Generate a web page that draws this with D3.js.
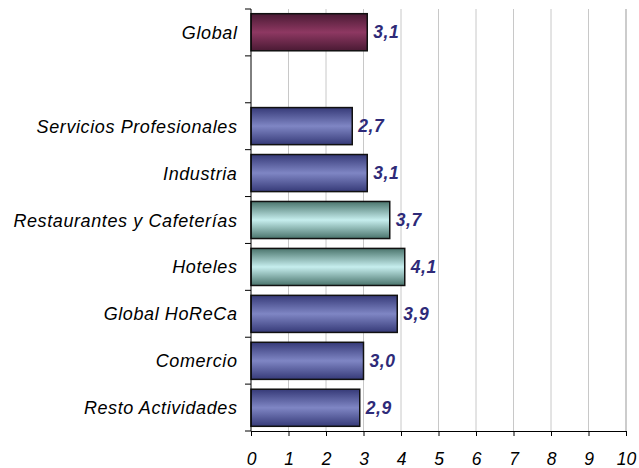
<!DOCTYPE html>
<html>
<head>
<meta charset="utf-8">
<script src="https://cdn.jsdelivr.net/npm/d3@7"></script>
<style>
body { margin: 0; background: #fff; }
text { font-family: "Liberation Sans", Arial, sans-serif; }
</style>
</head>
<body>
<svg width="639" height="468"></svg>
<script>
var categories = ["Global", "", "Servicios Profesionales", "Industria", "Restaurantes y Cafeterías", "Hoteles", "Global HoReCa", "Comercio", "Resto Actividades"];
var values = [3.1, null, 2.7, 3.1, 3.7, 4.1, 3.9, 3.0, 2.9];
var barStyle = ["maroon", null, "blue", "blue", "teal", "teal", "blue", "blue", "blue"];
var xTicks = [0, 1, 2, 3, 4, 5, 6, 7, 8, 9, 10];

var svg = d3.select("svg");
var plotLeft = 251, plotRight = 626, plotTop = 9, plotBottom = 431;

var x = d3.scaleLinear().domain([0, 10]).range([plotLeft, plotRight]);
var y = d3.scaleBand().domain(d3.range(categories.length)).range([plotTop, plotBottom]).paddingInner(0.21).paddingOuter(0.1);
var yTicks = d3.scaleBand().domain(d3.range(categories.length)).range([plotTop, plotBottom]);

// gradients for the bars
var defs = svg.append("defs");
var grads = {
    maroon: ["#4a1a34", "#8e3862", "#4a1a34"],
    blue: ["#363a78", "#7f86c4", "#363a78"],
    teal: ["#4a746c", "#c6eeee", "#4a746c"]
};
Object.keys(grads).forEach(function(k) {
    var g = defs.append("linearGradient").attr("id", "g-" + k)
        .attr("x1", 0).attr("y1", 0).attr("x2", 0).attr("y2", 1);
    g.append("stop").attr("offset", "0%").attr("stop-color", grads[k][0]);
    g.append("stop").attr("offset", "50%").attr("stop-color", grads[k][1]);
    g.append("stop").attr("offset", "100%").attr("stop-color", grads[k][2]);
});

// grid lines
svg.append("g").selectAll("line")
    .data(xTicks.slice(1))
    .enter().append("line")
    .attr("x1", function(d) { return x(d); })
    .attr("x2", function(d) { return x(d); })
    .attr("y1", plotTop).attr("y2", plotBottom)
    .attr("stroke", function(d) { return d === 10 ? "#999" : "#c8c8c8"; })
    .attr("stroke-width", 1);

// bars
var idx = d3.range(categories.length).filter(function(i) { return values[i] !== null; });
svg.append("g").selectAll("rect")
    .data(idx)
    .enter().append("rect")
    .attr("x", x(0))
    .attr("y", function(i) { return y(i); })
    .attr("width", function(i) { return x(values[i]) - x(0); })
    .attr("height", y.bandwidth())
    .attr("fill", function(i) { return "url(#g-" + barStyle[i] + ")"; })
    .attr("stroke", "#111")
    .attr("stroke-width", 1.5);

// value labels
svg.append("g").selectAll("text")
    .data(idx)
    .enter().append("text")
    .attr("x", function(i) { return x(values[i]) + 6; })
    .attr("y", function(i) { return y(i) + y.bandwidth() / 2 + 6; })
    .attr("font-size", 17.5)
    .attr("font-weight", "bold")
    .attr("font-style", "italic")
    .attr("letter-spacing", 0.6)
    .attr("fill", "#2e2a78")
    .text(function(i) { return d3.format(".1f")(values[i]).replace(".", ","); });

// y axis
var yAxis = svg.append("g").attr("transform", "translate(" + plotLeft + ",0)");
yAxis.append("line").attr("x1", 0).attr("x2", 0).attr("y1", plotTop).attr("y2", plotBottom).attr("stroke", "#000");
yAxis.selectAll("line.t")
    .data(d3.range(categories.length + 1))
    .enter().append("line").attr("class", "t")
    .attr("x1", -6).attr("x2", 0)
    .attr("y1", function(i) { return plotTop + i * yTicks.step(); })
    .attr("y2", function(i) { return plotTop + i * yTicks.step(); })
    .attr("stroke", "#000");
yAxis.selectAll("text")
    .data(d3.range(categories.length))
    .enter().append("text")
    .attr("x", -13.5)
    .attr("y", function(i) { return yTicks(i) + yTicks.bandwidth() / 2 + 6.5; })
    .attr("text-anchor", "end")
    .attr("font-size", 18)
    .attr("letter-spacing", 0.6)
    .attr("font-style", "italic")
    .text(function(i) { return categories[i]; });

// x axis
var xAxis = svg.append("g").attr("transform", "translate(0," + plotBottom + ")")
    .call(d3.axisBottom(x).tickValues(xTicks).tickSize(5).tickPadding(17));
xAxis.select(".domain").attr("stroke", "#000");
xAxis.selectAll(".tick line").attr("stroke", "#000");
xAxis.selectAll("text")
    .attr("font-size", 17.5)
    .attr("font-style", "italic")
    .attr("font-family", "Liberation Sans, Arial, sans-serif")
    .attr("fill", "#000");
</script>
</body>
</html>
